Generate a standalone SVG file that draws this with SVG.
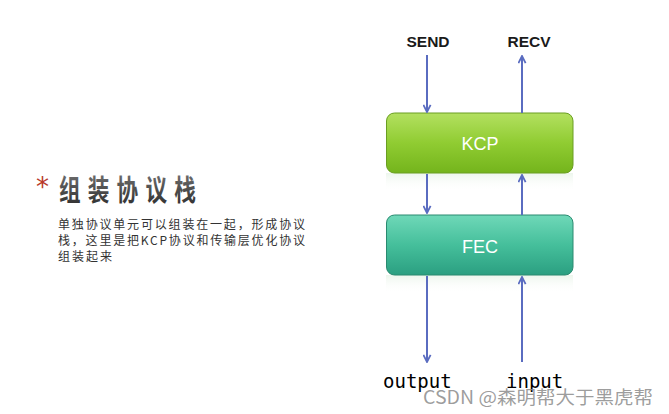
<svg xmlns="http://www.w3.org/2000/svg" width="669" height="414" viewBox="0 0 669 414">
<style>
.lbl{font-family:"Liberation Sans","DejaVu Sans",sans-serif;font-size:15.5px;font-weight:bold;fill:#1a1a1a;text-anchor:middle}
.box{font-family:"Liberation Sans","DejaVu Sans",sans-serif;font-size:18px;fill:#ffffff;text-anchor:middle}
.mono{font-family:"DejaVu Sans Mono","Liberation Mono",monospace;font-size:19px;fill:#000}
.cn{font-family:"Noto Sans CJK SC","Noto Sans",sans-serif}
.arr{stroke:#5a6cc0;stroke-width:2;fill:none;marker-end:url(#ah)}
</style>
<defs>
<marker id="ah" viewBox="0 0 10 10" refX="9" refY="5" markerWidth="9" markerHeight="9" orient="auto" markerUnits="userSpaceOnUse">
<path d="M1,1 L9,5 L1,9" fill="none" stroke="#5a6cc0" stroke-width="2" stroke-linejoin="miter"/>
</marker>
<linearGradient id="gK" x1="0" y1="0" x2="0" y2="1">
<stop offset="0" stop-color="#b3e060"/><stop offset="0.5" stop-color="#90cc32"/><stop offset="1" stop-color="#74b41c"/>
</linearGradient>
<linearGradient id="gF" x1="0" y1="0" x2="0" y2="1">
<stop offset="0" stop-color="#6fd8b8"/><stop offset="0.5" stop-color="#45bf9b"/><stop offset="1" stop-color="#2b9f81"/>
</linearGradient>
<linearGradient id="gR" x1="0" y1="0" x2="0" y2="1">
<stop offset="0" stop-color="#d8ecd8" stop-opacity="0.8"/><stop offset="1" stop-color="#ffffff" stop-opacity="0"/>
</linearGradient>
<linearGradient id="gT" x1="0" y1="0" x2="0" y2="1">
<stop offset="0" stop-color="#7a7a7a"/><stop offset="1" stop-color="#2a2a2a"/>
</linearGradient>
</defs>
<rect width="669" height="414" fill="#ffffff"/>

<g id="title">
<text x="36" y="196" font-family="'DejaVu Sans',sans-serif" font-size="26" fill="#b83a2a">*</text>
<text transform="translate(59,201) scale(0.8,1.08)" x="0" y="0" class="cn" font-size="27" font-weight="bold" fill="url(#gT)" textLength="171" lengthAdjust="spacing">组装协议栈</text>
</g>
<g id="desc" class="cn" font-size="12" fill="#333">
<text x="58" y="229" textLength="247" lengthAdjust="spacing">单独协议单元可以组装在一起，形成协议</text>
<text x="58" y="245" textLength="247" lengthAdjust="spacing">栈，这里是把KCP协议和传输层优化协议</text>
<text x="58" y="261" textLength="54" lengthAdjust="spacing">组装起来</text>
</g>

<g id="send"><text x="428" y="47" class="lbl">SEND</text></g>
<g id="recv"><text x="529" y="47" class="lbl">RECV</text></g>

<g id="kcp">
<rect x="386" y="173" width="187" height="18" fill="url(#gR)" opacity="0.6"/>
<rect x="386.5" y="113" width="186.5" height="60" rx="8" fill="url(#gK)" stroke="#6a9e22" stroke-width="1"/>
<text x="480" y="150" class="box">KCP</text>
</g>
<g id="fec">
<rect x="386" y="275" width="187" height="18" fill="url(#gR)" opacity="0.6"/>
<rect x="386.5" y="215" width="186.5" height="60" rx="8" fill="url(#gF)" stroke="#2a8a70" stroke-width="1"/>
<text x="480" y="253" class="box">FEC</text>
</g>

<g id="output"><text x="383" y="388" class="mono">output</text></g>
<g id="input"><text x="506" y="388" class="mono">input</text></g>

<g id="connectors">
<line x1="427" y1="55" x2="427" y2="112" class="arr"/>
<line x1="522" y1="113" x2="522" y2="56" class="arr"/>
<line x1="427" y1="174" x2="427" y2="213" class="arr"/>
<line x1="522" y1="215" x2="522" y2="175" class="arr"/>
<line x1="427" y1="276" x2="427" y2="362" class="arr"/>
<line x1="522" y1="362" x2="522" y2="277" class="arr"/>
</g>

<g id="watermark"><text x="423" y="404" class="cn" font-size="18" fill="#8c8c8c" fill-opacity="0.85" textLength="230" lengthAdjust="spacingAndGlyphs">CSDN @森明帮大于黑虎帮</text></g>
</svg>
